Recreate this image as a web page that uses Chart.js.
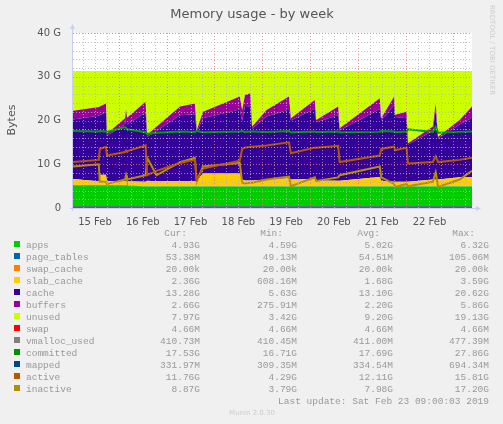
<!DOCTYPE html>
<html><head><meta charset="utf-8">
<script src="https://cdn.jsdelivr.net/npm/chart.js@4/dist/chart.umd.min.js"></script>
<style>html,body{margin:0;padding:0;background:#f0f0f0}#w{width:503px;height:424px}</style>
</head><body><div id="w"><canvas id="c" width="503" height="424"></canvas></div>
<script>
// time in days since 15 Feb 00:00
const times = [0.04,0.58,0.60,0.73,0.75,1.13,1.15,1.17,1.56,1.59,1.79,2.28,2.59,2.63,2.76,3.53,3.58,3.64,3.75,3.79,4.09,4.56,4.60,5.10,5.13,5.59,5.62,6.46,6.49,6.76,6.78,7.02,7.05,7.57,7.63,7.68,8.13,8.39];
const appsVals = [5.2,5.2,5.2,5.2,5.2,5.2,5.2,5.1,4.9,4.9,4.9,4.9,4.9,4.9,4.9,4.9,4.9,4.9,4.9,4.9,4.9,4.9,4.9,4.9,4.9,4.9,4.9,4.9,4.9,4.9,4.9,4.9,4.9,4.9,4.9,4.9,4.9,4.9];
const pageTablesVals = times.map(()=>0.053);
const swapCacheVals = times.map(()=>0.00002);
// read boundaries (G): top of slab band, top of buffers band, buffers thickness
const slabTopVals = [6.6,6.1,7.6,7.6,6.1,6.1,6.1,6.1,6.0,6.2,6.1,6.1,6.1,6.2,7.9,7.9,6.5,6.3,6.3,6.3,6.5,6.8,6.5,6.6,6.3,6.2,6.2,7.1,6.2,6.0,6.0,6.0,6.0,6.5,6.5,6.5,7.0,7.0];
const usedTopVals = [22.2,23.1,23.2,23.9,17.0,20.5,22.5,20.6,24.3,16.7,18.6,23.2,23.9,17.8,22.0,25.5,22.4,25.8,26.2,18.6,22.4,25.5,20.5,24.7,20.1,23.2,18.2,25.1,20.5,25.5,21.3,22.0,14.8,18.6,23.9,16.3,20.1,23.2];
const buffersVals = [2,2,2,2,0.5,1.5,2,1.5,2.5,0.5,1,2,2.5,0.5,1.5,3,2.5,2.5,3,0.5,1.5,3,0.5,2,0.5,2,0.5,2.5,0.5,2,0.5,1.5,0.3,1,1.5,0.5,1,2.6];
const totalMem = 31.3;
const swapVals = times.map(()=>0.00466);
const vmallocVals = times.map(()=>0.41);
const committedVals = [17.6,17.5,17.6,17.5,17.4,18.5,18.3,18.0,17.3,17.0,17.2,17.5,17.4,17.6,17.3,17.5,17.6,17.4,17.5,17.5,17.4,17.6,17.3,17.5,17.4,17.5,17.3,17.4,17.6,17.5,17.3,17.5,18.0,17.4,18.5,17.2,17.4,17.5];
const mappedVals = times.map(()=>0.33);
const activeVals = [10.5,11.0,13.5,14.0,12.0,12.8,13.2,13.0,14.3,7.5,8.5,10.3,11.0,6.5,9.0,10.8,13.5,13.8,14.0,14.0,14.3,15.0,12.5,13.8,13.8,14.2,10.5,12.0,13.5,14.0,13.2,13.8,10.2,10.5,11.8,10.5,11.0,11.5];
const inactiveVals = [9.5,10.0,6.0,6.0,5.5,6.5,7.5,6.5,7.5,11.5,7.5,10.5,11.5,6.0,9.5,10.3,5.8,5.6,5.8,5.8,6.5,7.2,5.0,7.0,6.2,7.0,7.5,9.5,7.0,5.5,4.8,5.5,5.0,6.0,8.2,4.8,6.5,8.5];
const dayLabels = ['15 Feb','16 Feb','17 Feb','18 Feb','19 Feb','20 Feb','21 Feb','22 Feb'];
const yTicks = [0,10,20,30,40];
const legendRows = [
 ['apps','#00cc00','4.93G','4.59G','5.02G','6.32G'],
 ['page_tables','#0066b3','53.38M','49.13M','54.51M','105.06M'],
 ['swap_cache','#ff8000','20.00k','20.00k','20.00k','20.00k'],
 ['slab_cache','#ffcc00','2.36G','608.16M','1.68G','3.59G'],
 ['cache','#330099','13.28G','5.63G','13.10G','20.62G'],
 ['buffers','#990099','2.66G','275.91M','2.20G','5.86G'],
 ['unused','#ccff00','7.97G','3.42G','9.20G','19.13G'],
 ['swap','#ff0000','4.66M','4.66M','4.66M','4.66M'],
 ['vmalloc_used','#808080','410.73M','410.45M','411.00M','477.39M'],
 ['committed','#008f00','17.53G','16.71G','17.69G','27.86G'],
 ['mapped','#00487d','331.97M','309.35M','334.54M','694.34M'],
 ['active','#b35a00','11.76G','4.29G','12.11G','15.81G'],
 ['inactive','#b38f00','8.87G','3.79G','7.98G','17.20G']
];

const slabVals = times.map((_,i)=>slabTopVals[i]-appsVals[i]-pageTablesVals[i]);
const cacheVals = times.map((_,i)=>usedTopVals[i]-buffersVals[i]-slabTopVals[i]);
const unusedVals = times.map((_,i)=>totalMem-usedTopVals[i]);
const pts = a => times.map((t,i)=>({x:t,y:a[i]}));
const area = (label,col,vals,first)=>({label,data:pts(vals),backgroundColor:col,borderColor:col,borderWidth:0,fill:first?'origin':'-1',stack:'mem',order:10,pointRadius:0,tension:0});
const line = (label,col,vals,w)=>({label,data:pts(vals),borderColor:col,backgroundColor:col,borderWidth:w,fill:false,stack:label,order:0,pointRadius:0,tension:0});

const gridPlugin = {id:'grid',
 beforeDraw(c){const ctx=c.ctx;ctx.save();ctx.fillStyle='#f0f0f0';ctx.fillRect(0,0,503,424);
   const a=c.chartArea;ctx.fillStyle='#fff';ctx.fillRect(a.left,a.top,a.right-a.left,a.bottom-a.top);ctx.restore();},
 afterDatasetsDraw(c){const ctx=c.ctx,a=c.chartArea,x=c.scales.x,y=c.scales.y;ctx.save();ctx.lineWidth=1;ctx.setLineDash([1,2]);
   for(let h=0;h<=9*24;h+=6){const t=h/24;if(t<x.min||t>x.max)continue;const px=Math.round(x.getPixelForValue(t))+0.5;
     ctx.strokeStyle=(h%24===0)?'rgba(230,120,120,0.8)':'rgba(180,180,180,0.8)';ctx.beginPath();ctx.moveTo(px,a.top);ctx.lineTo(px,a.bottom);ctx.stroke();}
   for(let g=0;g<=40;g+=2){const py=Math.round(y.getPixelForValue(g))+0.5;
     ctx.strokeStyle=(g%10===0)?'rgba(230,120,120,0.8)':'rgba(180,180,180,0.8)';ctx.beginPath();ctx.moveTo(a.left,py);ctx.lineTo(a.right,py);ctx.stroke();}
   ctx.setLineDash([]);ctx.strokeStyle='#c8cff0';ctx.beginPath();ctx.moveTo(a.left-0.5,a.bottom+3);ctx.lineTo(a.left-0.5,a.top-6);ctx.moveTo(a.left-3,a.bottom+0.5);ctx.lineTo(a.right+6,a.bottom+0.5);ctx.stroke();
   ctx.fillStyle='#c8cff0';ctx.beginPath();ctx.moveTo(a.left-3,a.top-4);ctx.lineTo(a.left+2,a.top-4);ctx.lineTo(a.left-0.5,a.top-9);ctx.fill();
   ctx.beginPath();ctx.moveTo(a.right+4,a.bottom-2);ctx.lineTo(a.right+4,a.bottom+3);ctx.lineTo(a.right+9,a.bottom+0.5);ctx.fill();
   ctx.restore();},
 afterDraw(c){const ctx=c.ctx;ctx.save();
   ctx.fillStyle='#555';ctx.font='13px "DejaVu Sans"';ctx.textAlign='center';ctx.fillText('Memory usage - by week',252,18);
   ctx.save();ctx.translate(15,120);ctx.rotate(-Math.PI/2);ctx.font='11px "DejaVu Sans"';ctx.fillText('Bytes',0,0);ctx.restore();
   ctx.save();ctx.translate(490,5);ctx.rotate(Math.PI/2);ctx.fillStyle='#ccc';ctx.font='7px "DejaVu Sans"';ctx.textAlign='left';ctx.fillText('RRDTOOL / TOBI OETIKER',0,0);ctx.restore();
   ctx.font='9.5px "Liberation Mono"';ctx.fillStyle='#999';ctx.textAlign='right';
   ['Cur:','Min:','Avg:','Max:'].forEach((h,i)=>ctx.fillText(h,[187,283,380,475][i],236));
   const cols=[200,297,393,489];
   legendRows.forEach((r,i)=>{const yy=248+i*12;ctx.fillStyle=r[1];ctx.fillRect(14,yy-7,6,6);
     ctx.fillStyle='#999';ctx.textAlign='left';ctx.fillText(r[0],26,yy);ctx.textAlign='right';
     for(let k=0;k<4;k++)ctx.fillText(r[2+k],cols[k],yy);});
   ctx.fillText('Last update: Sat Feb 23 09:00:03 2019',489,404);
   ctx.textAlign='center';ctx.fillStyle='#ccc';ctx.font='7px "DejaVu Sans"';ctx.fillText('Munin 2.0.30',252,415);
   ctx.restore();}
};

new Chart(document.getElementById('c'),{type:'line',
 data:{datasets:[
  area('apps','#00cc00',appsVals,true),
  area('page_tables','#0066b3',pageTablesVals),
  area('swap_cache','#ff8000',swapCacheVals),
  area('slab_cache','#ffcc00',slabVals),
  area('cache','#330099',cacheVals),
  area('buffers','#990099',buffersVals),
  area('unused','#ccff00',unusedVals),
  line('swap','#ff0000',swapVals,1),
  line('vmalloc_used','#808080',vmallocVals,1),
  line('committed','#00a000',committedVals,2),
  line('mapped','#00487d',mappedVals,1),
  line('active','#b35a00',activeVals,2),
  line('inactive','#b38f00',inactiveVals,2)
 ]},
 options:{responsive:false,animation:false,
  layout:{padding:{left:0,top:33,right:31,bottom:0}},
  plugins:{legend:{display:false},tooltip:{enabled:false}},
  scales:{
   x:{type:'linear',min:0.04,max:8.39,grid:{display:false},border:{display:false},
     afterBuildTicks(s){s.ticks=dayLabels.map((_,i)=>({value:i+0.5}));},
     ticks:{autoSkip:false,maxRotation:0,color:'#555',font:{family:'DejaVu Sans',size:10},padding:0,callback:(v)=>dayLabels[Math.round(v-0.5)]},
     afterFit(s){s.height=216;}},
   y:{stacked:true,min:0,max:40,grid:{display:false},border:{display:false},
     afterBuildTicks(s){s.ticks=yTicks.map(v=>({value:v}));},
     ticks:{color:'#555',font:{family:'DejaVu Sans',size:10},padding:4,callback:v=>v===0?'0':v+' G'},
     afterFit(s){s.width=73;}}
  }},
 plugins:[gridPlugin]});
</script></body></html>
